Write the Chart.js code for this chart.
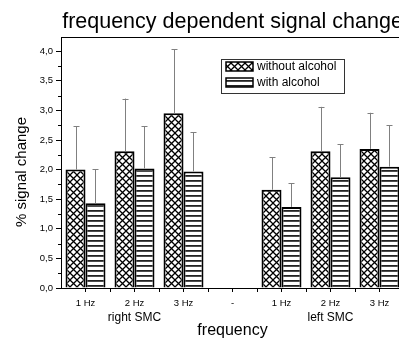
<!DOCTYPE html>
<html><head><meta charset="utf-8">
<script src="https://cdn.jsdelivr.net/npm/chart.js@4/dist/chart.umd.min.js"></script>
<style>html,body{margin:0;padding:0;overflow:hidden;background:#fff}canvas{display:block}</style>
</head><body>
<canvas id="c" width="420" height="341"></canvas>
<script>
// ---- data ----
const categories = ['1 Hz', '2 Hz', '3 Hz', '-', '1 Hz', '2 Hz', '3 Hz'];
const groupLabels = ['right SMC', 'left SMC'];
const groupIndex = [1, 5];
const seriesNames = ['without alcohol', 'with alcohol'];
const withoutAlcohol = [2.00, 2.31, 2.95, null, 1.66, 2.31, 2.35];
const withAlcohol = [1.43, 2.02, 1.97, null, 1.37, 1.87, 2.05];
const errWithout = [0.73, 0.89, 1.08, null, 0.55, 0.75, 0.61];
const errWith = [0.58, 0.71, 0.66, null, 0.40, 0.56, 0.70];
const yTicks = [0, 0.5, 1.0, 1.5, 2.0, 2.5, 3.0, 3.5, 4.0];
const titleText = 'frequency dependent signal change';
const xTitle = 'frequency';
const yTitle = '% signal change';

const FONT = "'Liberation Sans', Arial, sans-serif";
Chart.defaults.font.family = FONT;
Chart.defaults.color = '#000';

function crossPattern() {
  const n = 7;
  const c = document.createElement('canvas'); c.width = n; c.height = n;
  const g = c.getContext('2d');
  g.fillStyle = '#fff'; g.fillRect(0, 0, n, n);
  g.strokeStyle = '#000'; g.lineWidth = 1.3;
  g.beginPath();
  g.moveTo(-1, -1); g.lineTo(n + 1, n + 1);
  g.moveTo(n + 1, -1); g.lineTo(-1, n + 1);
  g.stroke();
  return g.createPattern(c, 'repeat');
}
function linePattern() {
  const c = document.createElement('canvas'); c.width = 4; c.height = 5;
  const g = c.getContext('2d');
  g.fillStyle = '#fff'; g.fillRect(0, 0, 4, 5);
  g.fillStyle = '#222'; g.fillRect(0, 0, 4, 1.8);
  return g.createPattern(c, 'repeat');
}
const patCross = crossPattern();
const patLines = linePattern();
const errs = [errWithout, errWith];

const extras = {
  id: 'extras',
  afterDatasetsDraw(chart) {
    const ctx = chart.ctx;
    ctx.save();
    ctx.strokeStyle = '#808080'; ctx.lineWidth = 1;
    chart.data.datasets.forEach((ds, di) => {
      const meta = chart.getDatasetMeta(di);
      meta.data.forEach((bar, i) => {
        const v = ds.data[i], e = errs[di][i];
        if (v == null || e == null) return;
        const y0 = chart.scales.y.getPixelForValue(v);
        const y1 = chart.scales.y.getPixelForValue(v + e);
        const x = Math.round(bar.x) + 0.5;
        ctx.beginPath();
        ctx.moveTo(x, y0); ctx.lineTo(x, y1);
        ctx.moveTo(x - 3, Math.round(y1) + 0.5); ctx.lineTo(x + 3, Math.round(y1) + 0.5);
        ctx.stroke();
      });
    });
    ctx.restore();
  },
  afterDraw(chart) {
    const ctx = chart.ctx, a = chart.chartArea;
    const xs = chart.scales.x, ys = chart.scales.y;
    ctx.save();
    ctx.strokeStyle = '#000'; ctx.lineWidth = 1;
    ctx.beginPath();
    ctx.moveTo(a.left, Math.round(a.top) + 0.5); ctx.lineTo(a.right, Math.round(a.top) + 0.5);
    ctx.moveTo(Math.round(a.right) + 0.5, a.top); ctx.lineTo(Math.round(a.right) + 0.5, a.bottom);
    for (let k = 0; k < yTicks.length; k++) {
      const v = yTicks[k] + 0.25;
      if (v > ys.max) break;
      const py = Math.round(ys.getPixelForValue(v)) + 0.5;
      ctx.moveTo(a.left - 3, py); ctx.lineTo(a.left, py);
    }
    for (let i = 0; i < categories.length - 1; i++) {
      const px = Math.round((xs.getPixelForValue(i) + xs.getPixelForValue(i + 1)) / 2) + 0.5;
      ctx.moveTo(px, a.bottom); ctx.lineTo(px, a.bottom + 4);
    }
    ctx.stroke();
    ctx.fillStyle = '#000';
    ctx.textAlign = 'center'; ctx.textBaseline = 'alphabetic';
    ctx.font = '21.5px ' + FONT;
    ctx.fillText(titleText, (a.left + a.right) / 2, 28);
    ctx.textBaseline = 'middle';
    ctx.font = '12px ' + FONT;
    groupLabels.forEach((g, k) => ctx.fillText(g, xs.getPixelForValue(groupIndex[k]), 318));
    ctx.font = '16px ' + FONT;
    ctx.fillText(xTitle, (a.left + a.right) / 2, 331);
    ctx.save();
    ctx.translate(22, 172); ctx.rotate(-Math.PI / 2);
    ctx.font = '15px ' + FONT;
    ctx.fillText(yTitle, 0, 0);
    ctx.restore();
    const lx = 221.5, ly = 59.5, lw = 123, lh = 34;
    ctx.lineWidth = 1; ctx.strokeStyle = '#333';
    ctx.strokeRect(lx, ly, lw, lh);
    const pats = [patCross, patLines];
    ctx.textAlign = 'left'; ctx.font = '12px ' + FONT;
    seriesNames.forEach((n, k) => {
      const sy = 62 + k * 16;
      ctx.fillStyle = pats[k];
      ctx.fillRect(226, sy, 27, 9);
      ctx.strokeStyle = '#000'; ctx.lineWidth = 1.5;
      ctx.strokeRect(226, sy, 27, 9);
      ctx.fillStyle = '#000';
      ctx.fillText(n, 257, sy + 5);
    });
    ctx.restore();
  }
};

new Chart(document.getElementById('c'), {
  type: 'bar',
  data: {
    labels: categories,
    datasets: [
      { label: seriesNames[0], data: withoutAlcohol, backgroundColor: patCross, borderColor: '#000', borderWidth: 2 },
      { label: seriesNames[1], data: withAlcohol, backgroundColor: patLines, borderColor: '#000', borderWidth: 2 }
    ]
  },
  options: {
    responsive: false,
    animation: false,
    devicePixelRatio: 1,
    categoryPercentage: 0.816,
    barPercentage: 1.0,
    layout: { padding: { top: 37, right: 16, left: 0, bottom: 0 } },
    plugins: { legend: { display: false }, title: { display: false }, tooltip: { enabled: false } },
    scales: {
      x: {
        offset: true,
        grid: { offset: false, drawOnChartArea: false, drawTicks: true, tickLength: 4, color: '#000' },
        border: { display: true, color: '#000', width: 1 },
        ticks: { font: { size: 9.5 }, padding: 6, maxRotation: 0, autoSkip: false, color: '#000' },
        afterFit(s) { s.height = 53; }
      },
      y: {
        min: 0, max: 4.24,
        afterBuildTicks(s) { s.ticks = yTicks.map(v => ({ value: v })); },
        grid: { drawOnChartArea: false, drawTicks: true, tickLength: 5, color: '#000' },
        border: { display: true, color: '#000', width: 1 },
        ticks: { font: { size: 9.5 }, padding: 3, color: '#000', callback: v => Number(v).toFixed(1).replace('.', ',') },
        afterFit(s) { s.width = 61; }
      }
    }
  },
  plugins: [extras]
});
</script>
</body></html>
